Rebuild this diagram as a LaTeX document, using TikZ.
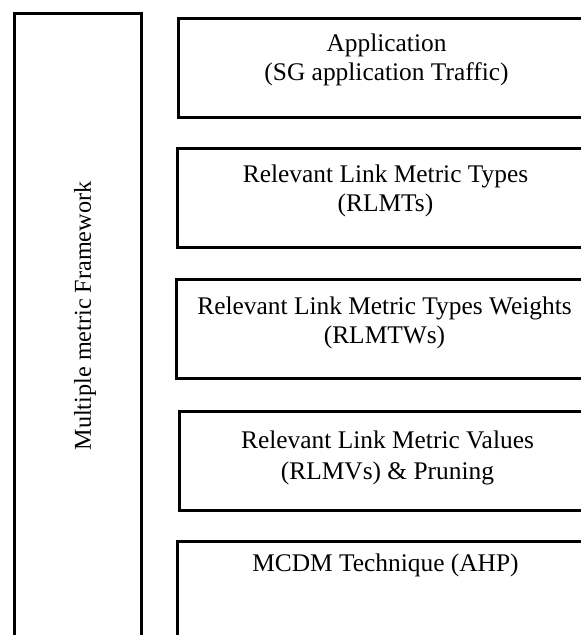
\documentclass[tikz,border=0pt]{standalone}
\usepackage{fontspec}
\setmainfont{Liberation Serif}
\usetikzlibrary{positioning}
\tikzstyle{layer}=[rectangle, draw=black, line width=1.5pt, minimum width=208pt, minimum height=49.5pt, anchor=north west, inner sep=0pt]
\tikzstyle{frame}=[rectangle, draw=black, line width=1.5pt, minimum width=63.5pt, minimum height=315pt, anchor=north west, inner sep=0pt]
\tikzstyle{caption}=[align=center, inner sep=0pt, font=\fontsize{12.7}{14.8}\selectfont]

\begin{document}
\begin{tikzpicture}[x=0.5pt,y=-0.5pt, node distance=6.5pt]
\clip (0,0) rectangle (581,635);
\node [frame] (mmf) at (13,12) {};
\node [caption, rotate=90, font=\fontsize{12.1}{14}\selectfont] (mmftext) at (85,316) {Multiple metric Framework};

\node [layer] (app) at (177,17) {};
\node [caption, below=8pt of app.north] (apptext) {Application\\(SG application Traffic)};
\node [layer] (rlmt) at (176,147) {};
\node [caption, below=8.5pt of rlmt.north] (rlmttext) {Relevant Link Metric Types\\(RLMTs)};
\node [layer] (rlmtw) at (175,278) {};
\node [caption, below=9pt of rlmtw.north] (rlmtwtext) {Relevant Link Metric Types Weights\\(RLMTWs)};
\node [layer] (rlmv) at (178,410) {};
\node [caption, below=10pt of rlmv.north, font=\fontsize{12.7}{15.5}\selectfont] (rlmvtext) {Relevant Link Metric Values\\(RLMVs) \& Pruning};
\node [layer] (mcdm) at (176,540) {};
\node [caption, below=of mcdm.north] (mcdmtext) {MCDM Technique (AHP)};

\end{tikzpicture}
\end{document}
